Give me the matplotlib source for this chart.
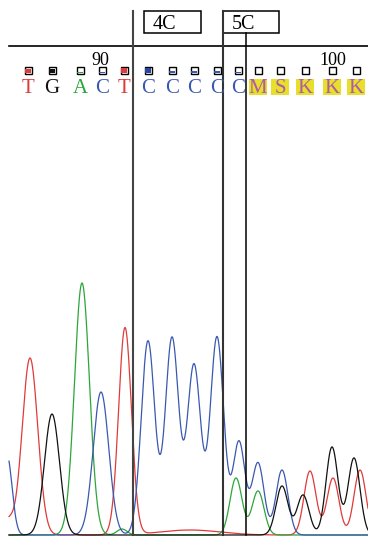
import numpy as np
import matplotlib
matplotlib.use("Agg")
from matplotlib import pyplot as plt
from matplotlib.patches import Rectangle

# base calls shown above the trace
bases = ["T", "G", "A", "C", "T", "C", "C", "C", "C", "C", "M", "S", "K", "K", "K"]
base_pos = [28, 52, 80, 102, 124, 148, 172, 194, 217, 238, 258, 280, 305, 332, 356]
quality = [0.75, 0.6, 0.15, 0.2, 0.9, 0.9, 0.4, 0.4, 0.4, 0.15, 0, 0, 0, 0, 0]
tick_labels = ["90", "100"]
tick_pos = [100, 333]

# peaks of each dye channel: centre, height, width
red_x = [8, 30, 125, 190, 310, 333, 360]
red_h = [14, 177, 207, 5, 64, 57, 65]
red_w = [5, 7.8, 6.4, 30, 6, 6, 6]
black_x = [52, 282, 303, 332, 354]
black_h = [121, 49, 40, 88, 77]
black_w = [7.5, 6, 6, 6, 6]
green_x = [82, 122, 236, 258]
green_h = [252, 6, 57, 44]
green_w = [7.5, 5, 6, 6]
blue_x = [7, 101, 148, 172, 194, 217, 239, 258, 282]
blue_h = [80, 143, 194, 197, 170, 198, 93, 72, 65]
blue_w = [5, 7.8, 6.8, 6.7, 6.7, 6.7, 6, 6, 6]

colors = {"T": "#e03a3a", "G": "#111111", "A": "#2ca63a", "C": "#3a58b0"}
amb_color = "#b25aa8"
base_y = 3


def trace(x, cs, hs, ws):
    y = np.zeros_like(x)
    for c, h, w in zip(cs, hs, ws):
        y += h * np.exp(-(x - c) ** 2 / (2 * w ** 2))
    return y


fig = plt.figure(figsize=(3.68, 5.38), dpi=100)
ax = fig.add_axes([0, 0, 1, 1])
ax.set_xlim(0, 368)
ax.set_ylim(0, 538)
ax.axis("off")

x = np.linspace(9, 368, 1500)
for cs, hs, ws, col in [(red_x, red_h, red_w, colors["T"]),
                        (green_x, green_h, green_w, colors["A"]),
                        (blue_x, blue_h, blue_w, colors["C"]),
                        (black_x, black_h, black_w, colors["G"])]:
    ax.plot(x, base_y + trace(x, cs, hs, ws), color=col, lw=0.9)

# header
ax.plot([9, 368], [492, 492], color="black", lw=1.2)
ax.plot([133, 133], [3, 527], color="#444444", lw=1.5)
ax.plot([223, 223], [3, 527], color="#333333", lw=1.5)
ax.plot([246, 246], [3, 505], color="black", lw=1.1)
for x0, x1, lab in [(144, 201, "4C"), (223, 279, "5C")]:
    ax.add_patch(Rectangle((x0, 505), x1 - x0, 22, fill=False, ec="black", lw=1.1))
    ax.text(x0 + 9, 509, lab, family="Liberation Serif", fontsize=14.5, va="baseline", ha="left")

for t, p in zip(tick_labels, tick_pos):
    ax.text(p, 473, t, family="Liberation Serif", fontsize=13, ha="center", va="baseline")

for b, p, q in zip(bases, base_pos, quality):
    col = colors.get(b, amb_color)
    if b not in colors:
        ax.add_patch(Rectangle((p - 9, 443), 18, 16, color="#e6e02a", lw=0))
    ax.text(p, 445, b, family="Liberation Serif", fontsize=15, ha="center", va="baseline", color=col)
    ax.add_patch(Rectangle((p - 3.5, 464.5), 7, 7, fill=False, ec="black", lw=1.0))
    if q > 0:
        ax.add_patch(Rectangle((p - 3, 465), 6, 6 * q, color=col if b != "C" or q < 0.9 else "#2a44a0", lw=0))

fig.savefig("out.png", dpi=100)
